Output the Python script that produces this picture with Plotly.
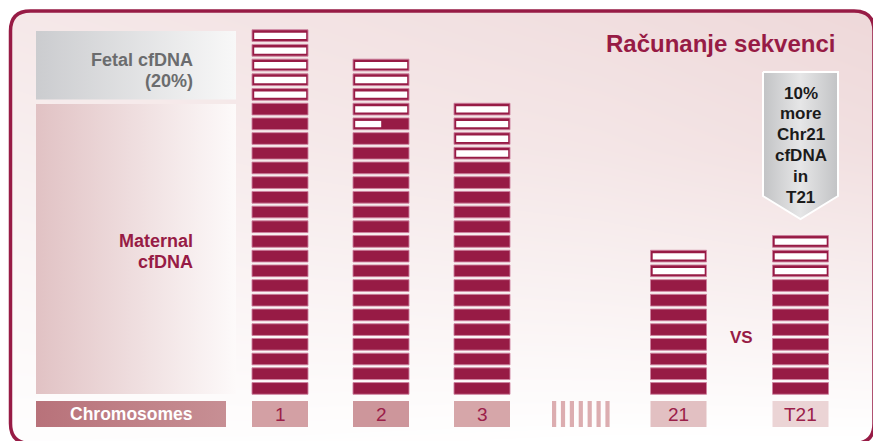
import math
import plotly.graph_objects as go

# ---------------- data ----------------
CHROMOSOMES = ["1", "2", "3", "21", "T21"]
TOTAL_READS = [25, 23, 20, 10, 11]      # read blocks per chromosome
FETAL_READS = [5, 4.5, 4, 2, 3]         # fetal (white) blocks among them
TITLE = "Računanje sekvenci"
FETAL_LABEL = ["Fetal cfDNA", "(20%)"]
MATERNAL_LABEL = ["Maternal", "cfDNA"]
AXIS_LABEL = "Chromosomes"
CALLOUT_LINES = ["10%", "more", "Chr21", "cfDNA", "in", "T21"]
VS_LABEL = "VS"

# ---------------- layout / style constants ----------------
W, H = 873, 441
CHROM_X = [280, 381, 482, 678.5, 800.5]   # slot centres (pixel axis)
ELLIPSIS_X = 580.5
BAR_W = 56
BLOCK_H = 0.795
INNER_W = 52
INNER_OFF = 2.2
INNER_BASE = 0.165
INNER_H = 0.43
MAROON = "#971b45"
FONT = "Liberation Sans, Arial, sans-serif"

fig = go.Figure()

# background gradient (pixel axes x / y)
bg_x = [10, 300, 600, 870]
bg_y = [10, 150, 300, 440]
bg_z = [[0.60, 0.72, 0.85, 1.00],
        [0.42, 0.55, 0.65, 0.80],
        [0.20, 0.28, 0.33, 0.40],
        [0.04, 0.03, 0.00, 0.00]]
fig.add_trace(go.Heatmap(x=bg_x, y=bg_y, z=bg_z, zmin=0, zmax=1, zsmooth="best",
                         colorscale=[[0, "#ffffff"], [1, "#eed8d9"]],
                         showscale=False, hoverinfo="skip", xaxis="x", yaxis="y"))


def grad_box(x0, x1, y0, y1, scale, outline=None, tip=None):
    if tip is None:
        xs = [x0, x1, x1, x0, x0]
        ys = [y0, y0, y1, y1, y0]
    else:
        xs = [x0, x1, x1, (x0 + x1) / 2, x0, x0]
        ys = [y0, y0, y1, tip, y1, y0]
    fig.add_trace(go.Scatter(
        x=xs, y=ys, mode="lines", fill="toself",
        fillgradient=dict(type="horizontal", colorscale=scale, start=x0, stop=x1),
        line=dict(width=2 if outline else 0, color=outline or "rgba(0,0,0,0)"),
        hoverinfo="skip", showlegend=False, xaxis="x", yaxis="y"))


# left legend boxes
grad_box(36, 236, 31, 99.5, [[0, "#cbcccf"], [1, "#f8f8f8"]])
grad_box(36, 236, 104, 394, [[0, "#e1c2c4"], [1, "#fdfafa"]])
grad_box(36, 226, 401, 427, [[0, "#b8727a"], [1, "#c78f94"]])
# callout arrow
grad_box(763, 838, 72, 196, [[0, "#c2c3c5"], [0.5, "#e6e6e7"], [1, "#c2c3c5"]],
         outline="#ffffff", tip=219)

# ---------------- read blocks (bars on block-unit axis) ----------------
mx, mb, my = [], [], []
wx, wb, wy, ww, wo = [], [], [], [], []
for cx, n, f in zip(CHROM_X, TOTAL_READS, FETAL_READS):
    for i in range(n):
        mx.append(cx); mb.append(i); my.append(BLOCK_H)
    full = math.floor(f)
    for i in range(n - full, n):
        wx.append(cx); wb.append(i + INNER_BASE); wy.append(INNER_H)
        ww.append(INNER_W); wo.append(-BAR_W / 2 + INNER_OFF)
    frac = f - full
    if frac > 0:
        i = n - full - 1
        wx.append(cx); wb.append(i + INNER_BASE); wy.append(INNER_H)
        ww.append(INNER_W * frac); wo.append(-BAR_W / 2 + INNER_OFF)

fig.add_trace(go.Bar(x=mx, y=my, base=mb, width=BAR_W, offset=-BAR_W / 2,
                     marker=dict(color=MAROON, line=dict(color="rgba(205,130,158,0.9)", width=1)),
                     hoverinfo="skip", showlegend=False, xaxis="x2", yaxis="y2"))
fig.add_trace(go.Bar(x=wx, y=wy, base=wb, width=ww, offset=wo,
                     marker=dict(color="#ffffff", line=dict(width=0)),
                     hoverinfo="skip", showlegend=False, xaxis="x2", yaxis="y2"))

shapes = []
# chromosome label boxes
LABEL_FILL = ["#d3a0a4", "#cd969b", "#d6a6a9", "#e2c0c2", "#ebd4d5"]
for cx, col in zip(CHROM_X, LABEL_FILL):
    shapes.append(dict(type="rect", xref="x", yref="y", x0=cx - BAR_W / 2, x1=cx + BAR_W / 2,
                       y0=401, y1=427, fillcolor=col, line=dict(width=0), layer="above"))
# ellipsis stripes
for k in range(7):
    sx = ELLIPSIS_X - 28.5 + k * 8.9
    shapes.append(dict(type="rect", xref="x", yref="y", x0=sx, x1=sx + 4.2,
                       y0=401, y1=427, fillcolor="#dcadb0", line=dict(width=0), layer="above"))

# rounded frame + outside mask (right and bottom edges run off the canvas)
L, T, R, B, RAD = 10.5, 11, 874, 443.5, 20
inner = (f"M {L},{T+RAD} V {B-RAD} Q {L},{B} {L+RAD},{B} H {R-RAD} Q {R},{B} {R},{B-RAD} "
         f"V {T+RAD} Q {R},{T} {R-RAD},{T} H {L+RAD} Q {L},{T} {L},{T+RAD} Z")
shapes.append(dict(type="path", xref="x", yref="y",
                   path=f"M -20,-20 H {W+20} V {H+20} H -20 Z " + inner,
                   fillcolor="#ffffff", line=dict(width=0), layer="above"))
shapes.append(dict(type="path", xref="x", yref="y", path=inner,
                   fillcolor="rgba(0,0,0,0)", line=dict(color=MAROON, width=3.5), layer="above"))

ann = []


def txt(x, y, s, size, color, bold=True, xanchor="center"):
    ann.append(dict(x=x, y=y, xref="x", yref="y", text=f"<b>{s}</b>" if bold else s,
                    showarrow=False, xanchor=xanchor, yanchor="middle",
                    font=dict(family=FONT, size=size, color=color)))


txt(837, 43, TITLE, 24, MAROON, xanchor="right")
txt(195, 60, FETAL_LABEL[0], 18, "#6b6c6e", xanchor="right")
txt(195, 81, FETAL_LABEL[1], 18, "#6b6c6e", xanchor="right")
txt(195, 241, MATERNAL_LABEL[0], 18, MAROON, xanchor="right")
txt(195, 262, MATERNAL_LABEL[1], 18, MAROON, xanchor="right")
txt(131, 414, AXIS_LABEL, 17.5, "#ffffff")
txt(741, 337, VS_LABEL, 17, MAROON)
for k, line in enumerate(CALLOUT_LINES):
    txt(800.5, 93 + k * 20.8, line, 17, "#1b1b1b")
for cx, lab in zip(CHROM_X, CHROMOSOMES):
    txt(cx, 414.5, lab, 19, "#9b2049", bold=False)

fig.update_layout(
    width=W, height=H, margin=dict(l=0, r=0, t=0, b=0),
    paper_bgcolor="#ffffff", plot_bgcolor="#ffffff",
    barmode="overlay", showlegend=False,
    xaxis=dict(range=[0, W], visible=False, fixedrange=True),
    yaxis=dict(range=[H, 0], visible=False, fixedrange=True),
    xaxis2=dict(range=[0, W], visible=False, overlaying="x", anchor="y2", fixedrange=True),
    yaxis2=dict(range=[-3.18, 26.82], visible=False, overlaying="y", anchor="x2", fixedrange=True),
    shapes=shapes, annotations=ann,
)

fig.write_html("out.html")
